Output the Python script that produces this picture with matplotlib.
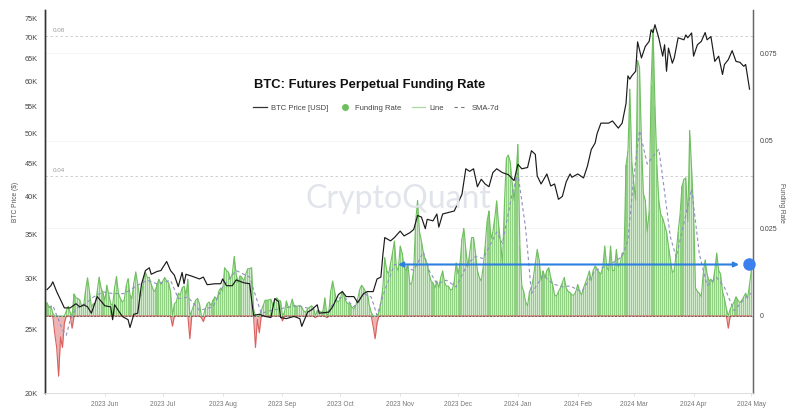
#!/usr/bin/env python3
# BTC futures perpetual funding rate vs price
import matplotlib
matplotlib.use('Agg')
import numpy as np
import pandas as pd
import matplotlib.pyplot as plt
from matplotlib.lines import Line2D
from matplotlib.ticker import FixedLocator, NullLocator

plt.rcParams['font.family'] = ['Liberation Sans', 'DejaVu Sans']

START = pd.Timestamp('2023-05-02')

# daily funding rate, in units of 0.001
funding_milli = [
    3.8, 2.5, 2.8, 0.8, -5, -9, -17.2, -6, -9, -2,
    1.5, 2.8, 1.0, -3.5, 6.3, 5.2, 5.0, 4.6, 2.6, 3.0,
    7.5, 10.9, 7, 2.5, 3.5, 3.5, 7, 11.1, 8, 6.5,
    4.5, 8.8, 6, 3.5, 3, 8, 11.3, 6.5, 5, 4,
    4.5, 8.5, 10.7, 6, 5, 9.5, 12.6, 9, 5.5, 6,
    10, 12.5, 11, 11, 9, 7.5, 7, 9, 10.5, 9,
    10, 11, 10, 9.5, 7, -2.9, 3.5, 4, 6.5, 6,
    8, 8.5, 6, 10.5, -6.5, 1.5, 3, 4.5, 5, 3.5,
    -0.5, -1.6, 2, 3.5, 4, 3, 4.5, 5.5, 4.5, 7,
    8, 7, 13.8, 13, 12.5, 10.5, 12, 17, 12, 9.5,
    11.5, 11, 10, 12, 13.5, 13.5, 13.8, 2, -9, -1,
    -4.8, 1.5, 3, 4.5, 4.5, 4.6, 4.8, 3, 4.5, 5.2,
    4.5, 4.3, -1.4, 1, 4.3, 2.5, 2.5, 4.8, 3, 2.8,
    2.8, 3, 2.5, 1.5, 1, 2, 2.5, 2.9, 2.5, -0.5,
    1.5, 1.5, 1, 1.5, 5.2, -0.5, 1, 7, 10, 7,
    4.5, 4, 5, 7.1, 5.5, 4, 3.5, 3.5, 2.5, 2,
    3, 5, 7.5, 8.8, 8, 7, 6.5, 3, 1, -3,
    -6.5, -2, 1, 4, 8, 16.7, 13, 12, 15, 18,
    21.4, 14, 13, 20, 18, 14, 13, 14.8, 9, 9.5,
    13, 27, 33, 24, 21.4, 18, 16, 15, 12, 10,
    9.5, 8, 10, 8, 11, 12.9, 9.5, 8.5, 8.5, 7.5,
    7.5, 10, 15.2, 12, 15, 22, 25, 19, 14, 18,
    22.4, 22.4, 18, 13, 11, 10, 14, 20, 27, 30,
    22, 24, 28, 32.9, 26, 21, 15, 32, 45, 46,
    44, 38, 33, 40, 49, 20, 8.6, 7, 4, 2.9,
    7, 8, 11, 15, 19, 16, 10, 12.9, 11, 13,
    13.8, 11, 9, 6, 5.7, 7, 8, 9.5, 11, 8,
    7, 6.7, 6, 6, 7, 9, 7, 6, 8, 9.5,
    11, 12.9, 10, 13, 14.3, 13.5, 12.5, 12, 14, 20,
    14, 13, 20, 13, 13, 19, 14, 15, 18, 18,
    43, 47, 64.8, 44, 38, 33, 73, 71, 50, 35,
    33, 24, 30, 66, 82, 60, 43, 33, 29, 28,
    26, 24, 20, 16, 12.4, 13, 18, 24, 29, 37,
    39, 39.5, 27, 53, 42, 30, 8, 7, 6.5, 5.5,
    12, 16, 12, 10, 10.5, 9.5, 13, 18, 13, 12,
    7, 5, 2, -3.5, 2, 3, 4, 5.5, 4.5, 3.8,
    4.5, 5.5, 6.5, 5, 9, 13.3,
]

sma_days = [1, 3, 5, 8, 10, 12, 15, 20, 24, 29, 34, 40, 47, 52, 57, 64, 68, 73, 79, 86,
            91, 98, 105, 111, 116, 130, 136, 145, 150, 154, 159, 164, 168, 171, 175, 180,
            184, 190, 195, 198, 202, 207, 212, 218, 222, 226, 233, 236, 241, 244, 248,
            251, 257, 262, 267, 271, 277, 284, 291, 298, 301, 304, 307, 311, 317, 319,
            323, 326, 334, 338, 342, 347, 351, 356, 362, 365]
sma_milli = [2.4, 3, 0.2, -4, -5.5, -1.2, 2.1, 3.5, 5.4, 6.9, 6.4, 6.4, 8.8, 10.2, 9.2, 10.2,
             5, 5.4, 1.6, 2.6, 8.3, 13, 11.1, 0.7, 1.6, 3, 2.1, 0.7, 5, 5.4, 2.6, 6.4, 5.4,
             0.2, 7.3, 14.7, 14.5, 13, 18.3, 13, 9.2, 10.2, 8.3, 15, 17, 16.4, 24, 20.7, 35,
             40.7, 25, 6.4, 11.6, 9.2, 8.3, 8.6, 6.9, 13, 14.5, 16.9, 21.6, 39.6, 53, 43.4,
             47.7, 39.6, 22.5, 16.8, 36.3, 17.7, 8.7, 11, 8.2, 1.5, 5.3, 6.5]

price_days = [0, 2, 3, 5, 7, 9, 12, 15, 17, 19, 21, 23, 26, 30, 33, 34, 35, 39, 42, 43, 45, 47,
              49, 51, 53, 54, 57, 59, 62, 64, 66, 68, 70, 71, 72, 75, 79, 81, 83, 87, 90, 91,
              93, 96, 98, 102, 105, 107, 110, 113, 116, 118, 120, 121, 124, 128, 131, 132,
              135, 137, 140, 141, 146, 148, 151, 153, 155, 159, 161, 164, 166, 169, 171, 173,
              174, 175, 178, 180, 183, 185, 188, 190, 192, 194, 196, 197, 200, 202, 203, 205,
              208, 211, 215, 217, 219, 221, 223, 225, 227, 229, 231, 233, 236, 239, 242, 244,
              246, 249, 251, 253, 254, 256, 259, 261, 263, 265, 267, 269, 271, 272, 275, 278,
              280, 282, 284, 285, 287, 291, 293, 296, 298, 300, 301, 302, 303, 305, 306, 308,
              310, 312, 313, 314, 315, 317, 319, 320, 321, 322, 324, 325, 327, 330, 331, 332,
              334, 335, 337, 339, 341, 342, 344, 345, 346, 348, 350, 351, 353, 355, 357, 359,
              361, 362, 364]
price_k = [28.8, 29.2, 29.6, 28.6, 27.8, 27, 27, 27.4, 27.1, 27.3, 27.1, 26.5, 28.1, 27.2, 27.1,
           25.9, 27.3, 26.2, 25.9, 25.2, 26.4, 26.5, 29.4, 30.8, 31.1, 30.4, 30.7, 30.8, 31.8,
           30.8, 30.3, 29.1, 30.6, 29.4, 30.4, 30.2, 29.9, 30.1, 29.3, 29.4, 29.4, 29.9, 29.2,
           29.2, 29.8, 29.5, 29.4, 26.3, 26.4, 26.2, 26.1, 27.9, 27.6, 26.1, 26, 26.2, 26, 25.3,
           26.6, 26.8, 27.3, 26.5, 26.6, 27.1, 28.3, 28.6, 28.1, 28.1, 27.5, 28.4, 28.6, 28.6,
           29.9, 30.1, 32.5, 34.6, 34.2, 34.6, 35.4, 34.8, 35.2, 35.6, 37.4, 37.2, 35.7, 36.9,
           36.7, 37.6, 35.9, 37.6, 37.8, 38, 40.3, 44.1, 43.7, 44.1, 41.4, 42.5, 41.8, 41.4,
           43.5, 44.1, 43.5, 43.2, 42.3, 44.8, 44.1, 44.3, 47, 46.4, 43, 41.8, 43.3, 41.5, 41.8,
           39.6, 40, 42.1, 43.3, 42.8, 43.3, 42.7, 44.5, 47.2, 48.3, 49.9, 51.8, 51.8, 52.2,
           50.9, 51.8, 55.5, 61.2, 60.5, 61.2, 62.2, 69, 65.2, 67.9, 69.1, 72, 71.3, 73.3, 69.9,
           65.6, 68.3, 62.2, 67.5, 64, 65.2, 70, 69.5, 70.7, 70, 71.2, 65.6, 68.3, 69.1, 71.3,
           69.5, 70.3, 67.2, 64.4, 65.6, 61.5, 63.7, 64.8, 66.9, 64.4, 64.2, 63.3, 63.7, 58.4]

price_ticks_k = [20, 25, 30, 35, 40, 45, 50, 55, 60, 65, 70, 75]
funding_ticks = [0, 0.025, 0.05, 0.075]
month_ticks = ['2023-06-01', '2023-07-01', '2023-08-01', '2023-09-01', '2023-10-01', '2023-11-01',
               '2023-12-01', '2024-01-01', '2024-02-01', '2024-03-01', '2024-04-01', '2024-05-01']


def day_to_date(days):
    return START + pd.to_timedelta(np.asarray(days), unit='D')


def main():
    funding = np.array(funding_milli) / 1000
    dates = pd.date_range(START, periods=len(funding), freq='D')
    pos = np.where(funding > 0, funding, 0)
    neg = np.where(funding < 0, funding, 0)

    fig = plt.figure(figsize=(8, 4.09), dpi=100)
    ax_r = fig.add_axes([44.5 / 800, 1 - 393 / 409, (753 - 44.5) / 800, 383 / 409])
    ax = ax_r.twinx()  # price on top of funding
    ax.yaxis.tick_left()
    ax.yaxis.set_label_position('left')
    ax_r.yaxis.tick_right()
    ax_r.yaxis.set_label_position('right')

    # funding rate, right axis
    ax_r.set_ylim(-0.022, 0.0874)
    for lev in funding_ticks[1:]:
        ax_r.axhline(lev, color='#f4f4f4', lw=0.6, zorder=0)
    for lev in [0.04, 0.08]:
        ax_r.axhline(lev, color='#c8c8c8', lw=0.6, ls=(0, (3, 3)), zorder=0)
        ax_r.text(pd.Timestamp('2023-05-05'), lev + 0.0007, f'{lev:g}', fontsize=4.5, color='#999999', va='bottom')

    ax_r.fill_between(dates, 0, pos, color='#d3ebcd', lw=0, zorder=1)
    ax_r.bar(dates, pos, width=0.55, color='#8fd083', lw=0, zorder=2)
    ax_r.plot(dates, pos, color='#6fbf60', lw=0.8, zorder=3)
    ax_r.fill_between(dates, 0, neg, color='#eeb4b4', lw=0, zorder=1)
    ax_r.plot(dates, neg, color='#d9605c', lw=0.8, zorder=3)
    ax_r.axhline(0, color='#4a4a4a', lw=0.5, ls=(0, (3, 2)), zorder=4)
    ax_r.plot(day_to_date(sma_days), np.array(sma_milli) / 1000, color='#8f8fc0', lw=0.8,
              ls=(0, (3, 2.5)), zorder=5)

    # price, left axis
    ax.set_yscale('log')
    ax.set_ylim(20000, 77200)
    ax.plot(day_to_date(price_days), np.array(price_k) * 1000, color='#1a1a1a', lw=0.85, zorder=6)

    ax_r.set_xlim(START - pd.Timedelta(days=1.3), START + pd.Timedelta(days=365.8))
    ax_r.set_xticks(pd.to_datetime(month_ticks))
    ax_r.set_xticklabels([pd.Timestamp(m).strftime('%Y %b') for m in month_ticks], fontsize=4.8, color='#777777')
    ax_r.tick_params(axis='x', length=2, width=0.4, color='#cccccc', pad=4)

    ax.yaxis.set_major_locator(FixedLocator([v * 1000 for v in price_ticks_k]))
    ax.yaxis.set_minor_locator(NullLocator())
    ax.set_yticklabels([f'{v}K' for v in price_ticks_k], fontsize=5.3, color='#444444')
    ax.tick_params(axis='y', length=0, pad=5)
    ax.set_ylabel('BTC Price ($)', fontsize=4.8, color='#555555')
    ax.yaxis.set_label_coords(19 / 800, 1 - 202 / 409, transform=fig.transFigure)

    ax_r.set_yticks(funding_ticks)
    ax_r.set_yticklabels([f'{v:g}' for v in funding_ticks], fontsize=5, color='#444444')
    ax_r.tick_params(axis='y', length=0, pad=5)
    ax_r.set_ylabel('Funding Rate', fontsize=4.8, color='#555555', rotation=270, va='center')
    ax_r.yaxis.set_label_coords(781 / 800, 1 - 203 / 409, transform=fig.transFigure)

    for a in (ax, ax_r):
        a.spines['top'].set_visible(False)
        a.spines['bottom'].set_color('#dddddd')
        a.spines['bottom'].set_linewidth(0.6)
        a.spines['left'].set_color('#333333')
        a.spines['left'].set_linewidth(1.0)
        a.spines['right'].set_color('#666666')
        a.spines['right'].set_linewidth(0.9)

    fig.text(398 / 800, 1 - 199 / 409, 'CryptoQuant', fontsize=23, family='Lato', color='#e2e4ec',
             ha='center', va='center', zorder=0)
    ax.text(370 / 800, 1 - 85 / 409, 'BTC: Futures Perpetual Funding Rate', transform=fig.transFigure,
            fontsize=9.4, fontweight='bold', color='#111111', ha='center', va='center', zorder=8)

    handles = [
        Line2D([], [], color='#333333', lw=0.9),
        Line2D([], [], color='none', marker='o', ms=5, mfc='#6cc05c', mec='none'),
        Line2D([], [], color='#a9d8a0', lw=0.9),
        Line2D([], [], color='#777777', lw=0.8, ls=(0, (3, 3))),
    ]
    labels = ['BTC Price [USD]', 'Funding Rate', 'Line', 'SMA-7d']
    ax.legend(handles, labels, ncols=4, frameon=False, fontsize=5.5, labelcolor='#444444',
              loc='center', bbox_to_anchor=(376 / 800, 1 - 108 / 409), bbox_transform=fig.transFigure,
              handlelength=1.8, columnspacing=1.3, handletextpad=0.5)

    # hand-drawn annotation over the chart
    ax.annotate('', xy=(398 / 800, 1 - 264.5 / 409), xytext=(739 / 800, 1 - 264.5 / 409),
                xycoords='figure fraction', textcoords='figure fraction', zorder=9,
                arrowprops=dict(arrowstyle='<|-|>', color='#2d7fe0', lw=1.5, mutation_scale=7,
                                shrinkA=0, shrinkB=0))
    ax.plot([749 / 800], [1 - 264 / 409], transform=fig.transFigure, marker='o', ms=9,
            mfc='#3b80ee', mec='none', clip_on=False, zorder=9)

    fig.savefig('out.png', dpi=100)


if __name__ == '__main__':
    main()
